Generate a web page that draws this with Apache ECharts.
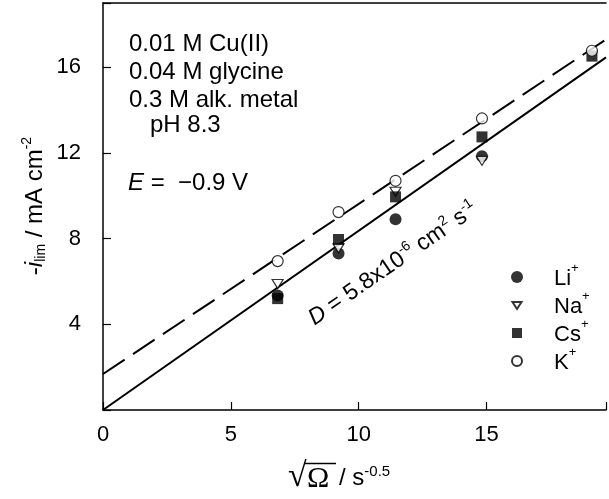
<!DOCTYPE html>
<html><head><meta charset="utf-8">
<script src="https://cdn.jsdelivr.net/npm/echarts@6/dist/echarts.min.js"></script>
<style>html,body{margin:0;padding:0;background:#fff}#c{width:609px;height:499px}</style>
</head><body><div id="c"></div>
<script>
// ---- data ----
const xValues = [6.83, 9.21, 11.44, 14.82, 19.12];          // sqrt(Omega) / s^-0.5
const liValues = [5.35, 7.31, 8.91, 11.85, null];
const naValues = [5.88, 7.55, 10.19, 11.63, null];
const csValues = [5.2, 7.96, 9.95, 12.75, 16.52];
const kValues  = [6.95, 9.24, 10.70, 13.61, 16.77];
const fitX = [0, 19.67];
const fitSolid = [0, 16.46];
const fitDashed = [1.68, 17.30];
const xTicks = [0, 5, 10, 15];
const yTicks = [4, 8, 12, 16];
const seriesNames = ['Li+', 'Na+', 'Cs+', 'K+'];
const infoLines = ['0.01 M Cu(II)', '0.04 M glycine', '0.3 M alk. metal', 'pH 8.3'];

const SANS = 'Liberation Sans, Arial, Helvetica, sans-serif';
const SERIF = 'Liberation Serif, Times New Roman, serif';
function pairs(xs, ys) { const out = []; xs.forEach((x, i) => { if (ys[i] != null) out.push([x, ys[i]]); }); return out; }

const chart = echarts.init(document.getElementById('c'), null, {renderer: 'canvas'});
const axisLine = {show: true, onZero: false, lineStyle: {color: '#000', width: 1.5}};
const option = {
  backgroundColor: '#fff',
  animation: false,
  grid: {left: 103, top: 3, right: 0, bottom: 89, containLabel: false},
  xAxis: [{
    type: 'value', min: 0, max: fitX[1], interval: 5, position: 'bottom',
    axisLine: axisLine,
    axisTick: {show: true, inside: true, length: 8, lineStyle: {color: '#000', width: 1.2}},
    axisLabel: {margin: 14, color: '#000', fontSize: 22, fontFamily: SANS,
      formatter: v => xTicks.indexOf(v) >= 0 ? String(v) : ''},
    splitLine: {show: false}
  }, {
    type: 'value', min: 0, max: fitX[1], position: 'top',
    axisLine: axisLine, axisTick: {show: false}, axisLabel: {show: false}, splitLine: {show: false}
  }],
  yAxis: {
    type: 'value', min: 0, max: 19, interval: 4,
    axisLine: axisLine,
    axisTick: {show: true, inside: true, length: 8, lineStyle: {color: '#000', width: 1.2}},
    axisLabel: {margin: 22, color: '#000', fontSize: 22, fontFamily: SANS,
      formatter: v => yTicks.indexOf(v) >= 0 ? String(v) : ''},
    splitLine: {show: false}
  },
  legend: {
    orient: 'vertical', left: 510, top: 262, padding: 0, itemWidth: 12, itemHeight: 12, itemGap: 0,
    selectedMode: false,
    data: [
      {name: seriesNames[0], icon: 'circle'},
      {name: seriesNames[1], icon: 'path://M0,0M12,12M1.5,3L10.5,3L6,10Z'},
      {name: seriesNames[2], icon: 'path://M0,0M12,12M1,1L11,1L11,11L1,11Z'},
      {name: seriesNames[3], icon: 'path://M0,0M12,12M1,6A5,5 0 1,0 11,6A5,5 0 1,0 1,6Z'}
    ],
    formatter: name => '{b|' + name.replace('+', '') + '}{s|+}',
    textStyle: {color: '#000', fontFamily: SANS, fontSize: 22,
      rich: {
        b: {fontSize: 22, fontFamily: SANS, color: '#000', lineHeight: 30, padding: [4, 0, 0, 26]},
        s: {fontSize: 13, fontFamily: SANS, color: '#000', lineHeight: 13, verticalAlign: 'top'}
      }}
  },
  series: [
    {type: 'line', data: pairs(fitX, fitSolid), symbol: 'none', silent: true, z: 1,
     lineStyle: {color: '#000', width: 2}},
    {type: 'line', data: pairs(fitX, fitDashed), symbol: 'none', silent: true, z: 1,
     lineStyle: {color: '#000', width: 2, type: [26, 10]}},
    {name: seriesNames[0], type: 'scatter', symbol: 'circle', symbolSize: 12, z: 2,
     itemStyle: {color: '#000'}, data: pairs(xValues, liValues)},
    {name: seriesNames[1], type: 'scatter', symbol: 'triangle', symbolRotate: 180, symbolSize: [11, 9], z: 2,
     itemStyle: {color: '#fff', borderColor: '#000', borderWidth: 1.2}, data: pairs(xValues, naValues)},
    {name: seriesNames[2], type: 'scatter', symbol: 'rect', symbolSize: 11, z: 2,
     itemStyle: {color: '#000'}, data: pairs(xValues, csValues)},
    {name: seriesNames[3], type: 'scatter', symbol: 'circle', symbolSize: 11, z: 2,
     itemStyle: {color: '#fff', borderColor: '#000', borderWidth: 1.2}, data: pairs(xValues, kValues)}
  ],
  graphic: [
    {type: 'text', x: 129, y: 44, style: {text: infoLines[0], font: '24px ' + SANS, fill: '#000', verticalAlign: 'middle'}},
    {type: 'text', x: 129, y: 72, style: {text: infoLines[1], font: '24px ' + SANS, fill: '#000', verticalAlign: 'middle'}},
    {type: 'text', x: 129, y: 100, style: {text: infoLines[2], font: '24px ' + SANS, fill: '#000', verticalAlign: 'middle'}},
    {type: 'text', x: 150, y: 125.5, style: {text: infoLines[3], font: '24px ' + SANS, fill: '#000', verticalAlign: 'middle'}},
    {type: 'text', x: 128, y: 183.5, style: {
      text: '{i|E}{n| =  \u22120.9 V}', verticalAlign: 'middle',
      rich: {i: {fontSize: 24, fontFamily: SANS, fontStyle: 'italic', fill: '#000'},
             n: {fontSize: 24, fontFamily: SANS, fill: '#000'}}}},
    {type: 'text', x: 393, y: 264, rotation: 34.5 * Math.PI / 180, style: {
      text: '{i|D}{n| = 5.8x10}{s|-6}{n| cm}{s|2}{n| s}{s|-1}', align: 'center', verticalAlign: 'middle',
      rich: {i: {fontSize: 23, fontFamily: SANS, fontStyle: 'italic', fill: '#000', lineHeight: 28},
             n: {fontSize: 23, fontFamily: SANS, fill: '#000', lineHeight: 28},
             s: {fontSize: 14, fontFamily: SANS, fill: '#000', lineHeight: 14, verticalAlign: 'top'}}}},
    {type: 'text', x: 35, y: 206, rotation: Math.PI / 2, style: {
      text: '{n|-}{i|i}{b|lim}{n| / mA cm}{s|-2}', align: 'center', verticalAlign: 'middle',
      rich: {n: {fontSize: 24, fontFamily: SANS, fill: '#000', lineHeight: 30},
             i: {fontSize: 24, fontFamily: SANS, fontStyle: 'italic', fill: '#000', lineHeight: 30},
             b: {fontSize: 14, fontFamily: SANS, fill: '#000', lineHeight: 14, verticalAlign: 'bottom', padding: [0, 0, 2, 0]},
             s: {fontSize: 14, fontFamily: SANS, fill: '#000', lineHeight: 14, verticalAlign: 'top'}}}},
    {type: 'text', x: 288, y: 477, style: {text: '\u221A', font: '34px ' + SERIF, fill: '#000', verticalAlign: 'middle'}},
    {type: 'line', shape: {x1: 305, y1: 463.5, x2: 336, y2: 463.5}, style: {stroke: '#000', lineWidth: 1.5}},
    {type: 'text', x: 307, y: 479, style: {text: '\u03A9', font: '30px ' + SERIF, fill: '#000', verticalAlign: 'middle'}},
    {type: 'text', x: 339, y: 478, style: {
      text: '{n|/ s}{s|-0.5}', verticalAlign: 'middle',
      rich: {n: {fontSize: 24, fontFamily: SANS, fill: '#000', lineHeight: 28},
             s: {fontSize: 15, fontFamily: SANS, fill: '#000', lineHeight: 15, verticalAlign: 'top'}}}}
  ]
};
chart.setOption(option);
</script>
</body></html>
